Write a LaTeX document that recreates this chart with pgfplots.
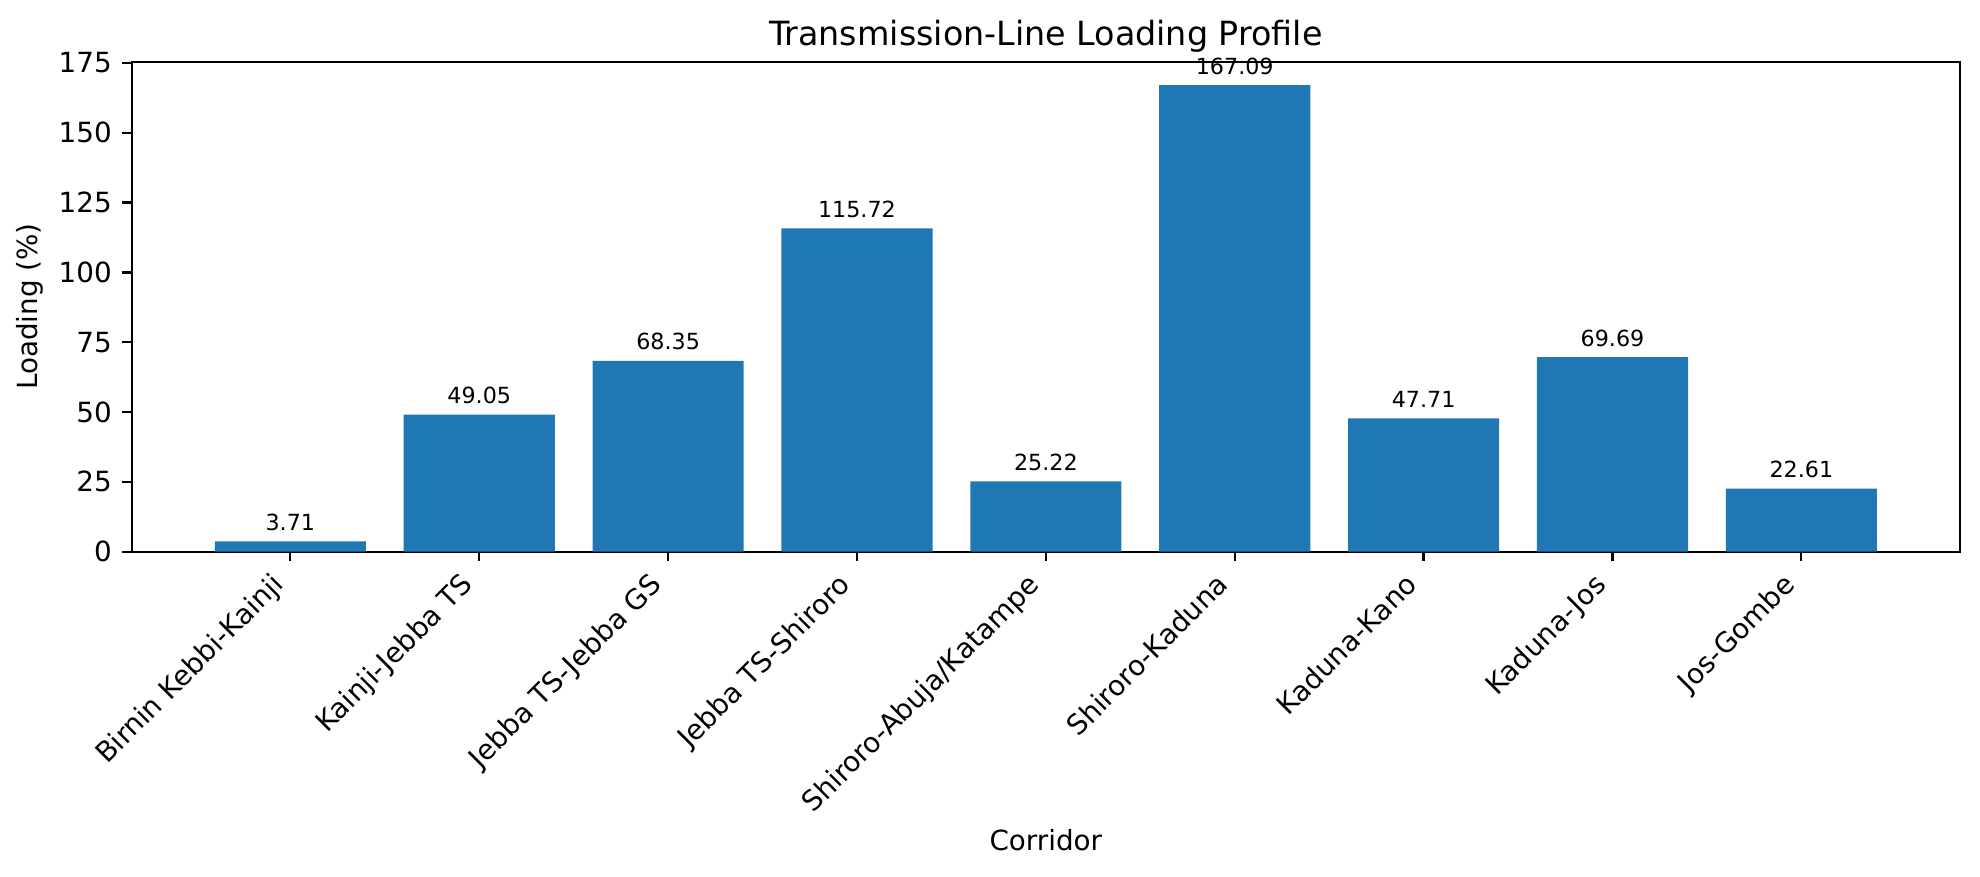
\documentclass[border=0pt]{standalone}
\usepackage{fontspec}
\setmainfont{DejaVu Sans}
\usepackage{pgfplots}
\pgfplotsset{compat=1.18}
\definecolor{barblue}{RGB}{31,119,180}

\begin{document}
\begin{tikzpicture}
\path[use as bounding box] (-47.41pt,-117.11pt) rectangle (665.39pt,198.61pt);
\begin{axis}[
    at={(0,0)}, anchor=south west,
    scale only axis,
    width=658.19pt, height=176.4pt,
    xmin=-0.84, xmax=8.84,
    ymin=0, ymax=175.44,
    clip=false,
    ybar, bar width=0.8,
    xtick={0,...,8},
    xticklabels={Birnin Kebbi-Kainji, Kainji-Jebba TS, Jebba TS-Jebba GS, Jebba TS-Shiroro, Shiroro-Abuja/Katampe, Shiroro-Kaduna, Kaduna-Kano, Kaduna-Jos, Jos-Gombe},
    ytick={0,25,...,175},
    tick pos=left,
    tick align=outside,
    major tick length=3.5pt,
    axis line style={line width=0.8pt},
    major tick style={line width=0.8pt, black},
    /pgf/number format/assume math mode=true,
    xticklabel style={font=\fontsize{10}{12}\selectfont, inner sep=0pt, xshift=-1.67pt, yshift=-8.9pt, rotate=45, anchor=base east},
    yticklabel style={font=\fontsize{10}{12}\selectfont, inner sep=0pt, xshift=-3.5pt, anchor=east},
    title={Transmission-Line Loading Profile},
    every axis title/.style={at={(axis description cs:0.5,1)}, anchor=base, inner sep=0pt, yshift=6pt, font=\fontsize{12}{14.4}\selectfont},
    xlabel={Corridor},
    every axis x label/.style={at={(axis description cs:0.5,0)}, anchor=base, inner sep=0pt, yshift=-107.4pt, font=\fontsize{10}{12}\selectfont},
    ylabel={Loading (\%)},
    every axis y label/.style={at={(axis description cs:-0.0483,0.5)}, rotate=90, anchor=south, inner sep=0pt, font=\fontsize{10}{12}\selectfont},
    nodes near coords={\pgfmathprintnumber[fixed,fixed zerofill,precision=2]{\pgfplotspointmeta}},
    every node near coord/.append style={font=\fontsize{8}{9.6}\selectfont, inner sep=0pt, anchor=base, yshift=3.9pt, black},
]
\addplot[fill=barblue, draw=none] coordinates {
    (0,3.71) (1,49.05) (2,68.35) (3,115.72) (4,25.22)
    (5,167.09) (6,47.71) (7,69.69) (8,22.61)
};
\end{axis}
\end{tikzpicture}
\end{document}
